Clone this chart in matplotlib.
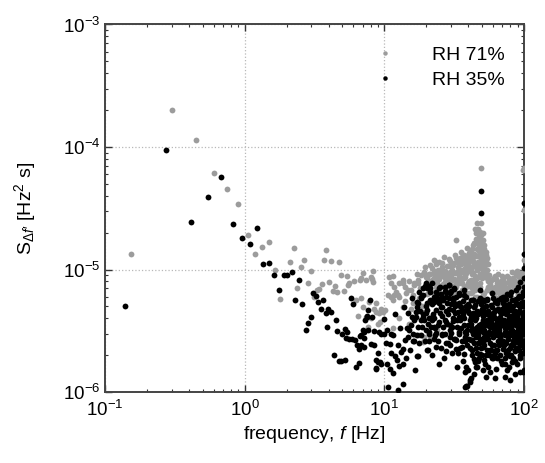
import matplotlib
matplotlib.use("Agg")
import matplotlib.pyplot as plt
from matplotlib.lines import Line2D
from matplotlib.ticker import LogLocator, NullFormatter
import numpy as np

plt.rcParams['font.family'] = ['Liberation Sans', 'DejaVu Sans']
plt.rcParams['mathtext.fontset'] = 'custom'
plt.rcParams['mathtext.rm'] = 'Liberation Sans'
plt.rcParams['mathtext.it'] = 'Liberation Sans:italic'
plt.rcParams['mathtext.default'] = 'regular'

# spectral density values are in units of 1e-6 Hz^2 s
# RH 71 % (grey)
f71 = [0.153, 0.30, 0.45, 0.60, 0.75, 0.89, 1.05, 1.19, 1.34, 1.49, 1.64, 1.80,
       2.10, 2.24, 2.38, 2.54, 2.67, 2.83, 2.96, 3.11, 3.28, 3.43, 3.59, 3.71,
       3.85, 4.0, 4.16, 4.3, 4.42, 4.6, 4.77, 4.93, 5.1, 5.38, 5.52, 5.6,
       6.11, 6.26, 6.45, 6.7, 6.8, 6.8, 7.0, 7.0, 7.4, 7.4, 7.6, 7.8,
       8.0, 8.0, 8.1, 8.3, 8.3, 8.5, 8.7, 8.7, 8.95, 9.2, 9.3, 9.5,
       9.7, 10.1, 10.6, 10.8, 11.1, 11.2, 11.5, 11.5, 11.8, 11.8, 12.5, 12.8,
       12.8, 13.5, 13.5, 13.7, 14.3, 14.7, 15.5, 15.5, 16.4, 16.4, 17.3, 17.3,
       17.8, 17.8, 18.3, 18.8, 19.3, 19.3, 19.3, 19.8, 19.8, 20.3, 21.0, 21.4,
       21.4, 22.0, 22.0, 22.6, 22.6, 23.4, 23.4, 23.4, 24.0, 24.0, 24.6, 24.6,
       25.9, 25.9, 25.9, 27.0, 27.5, 28.0, 28.9, 28.9, 29.7, 30.8, 31.6, 32.2,
       32.6, 32.6, 32.6, 32.6, 34.3, 34.3, 34.3, 35.2, 36.0, 36.0, 36.0, 37.4,
       37.4, 37.4, 37.8, 37.8, 37.8, 37.8, 38.7, 40.3, 40.3, 40.3, 41.4, 41.4,
       41.4, 42.4, 42.4, 42.4, 43.0, 43.6, 44.7, 44.7, 44.7, 44.7, 44.7, 45.5,
       45.8, 46.4, 46.4, 47.0, 47.0, 48.2, 48.2, 48.2, 48.2, 48.2, 48.2, 49.0,
       49.5, 49.5, 49.0, 50.0, 50.7, 50.7, 50.7, 50.7, 50.7, 50.7, 51.0, 52.0,
       52.0, 52.0, 52.0, 52.0, 53.3, 53.3, 53.3, 53.3, 54.7, 58.8, 60.7, 60.7,
       66.5, 66.5, 68.6, 68.6, 70.6, 70.6, 72.5, 74.3, 78.5, 78.5, 82.5, 82.5,
       87.4, 87.4, 94.3, 94.3, 98.0, 100.0, 100.0, 100.0,
       56.0, 63.0, 76.0, 90.0, 97.0, 57.5, 84.0, 92.0, 62.0, 45.0, 39.5, 35.5,
       30.0, 26.5, 20.8, 16.0, 14.0, 12.2, 33.5, 43.0, 55.5, 65.0, 80.0, 99.0]
s71 = [13.3, 200, 113, 61, 45, 34, 19, 13.5, 15.2, 16.7, 10.0, 5.75,
       11.5, 15.0, 7.0, 10.4, 12.0, 7.8, 9.8, 6.0, 6.8, 6.95, 7.6, 11.9,
       14.5, 7.9, 11.7, 6.65, 7.3, 6.5, 11.5, 9.0, 6.65, 8.9, 7.45, 7.7,
       8.0, 5.6, 4.2, 8.2, 8.5, 5.85, 9.4, 4.95, 8.2, 4.1, 3.4, 5.4,
       8.7, 4.0, 8.4, 9.7, 7.9, 4.8, 5.3, 4.5, 3.62, 4.4, 3.73, 4.8,
       4.5, 4.65, 6.17, 8.7, 7.8, 5.97, 8.8, 5.6, 6.17, 7.2, 6.17, 5.97,
       7.7, 8.2, 4.95, 7.8, 6.4, 6.8, 4.8, 6.8, 7.8, 7.5, 7.8, 8.2,
       2.9, 5.85, 9.0, 2.57, 2.82, 9.5, 4.5, 9.0, 8.7, 8.7, 9.2, 9.2,
       2.8, 10.2, 8.2, 9.8, 8.5, 11.5, 11.0, 7.2, 6.8, 3.2, 8.3, 6.4,
       9.0, 5.6, 9.5, 8.6, 7.2, 9.2, 10.6, 6.4, 9.5, 5.6, 8.4, 13.2,
       17.3, 8.2, 6.4, 7.2, 7.7, 9.2, 5.3, 11.0, 8.5, 12.7, 6.8, 12.0,
       6.0, 8.6, 10.2, 8.7, 6.4, 4.95, 12.0, 13.7, 10.6, 6.4, 7.2, 8.2,
       6.4, 9.2, 14.8, 6.6, 15.8, 8.2, 21.6, 6.8, 7.9, 6.0, 8.8, 19.7,
       23.8, 10.2, 6.0, 11.0, 21.6, 17.3, 7.2, 9.2, 20.3, 7.7, 10.6, 15.3,
       12.0, 23.8, 68, 12.3, 9.8, 15.3, 10.6, 6.2, 5.6, 17.3, 13.5, 13.0,
       14.8, 10.7, 6.4, 9.2, 14.0, 8.7, 13.2, 11.6, 6.8, 6.4, 6.0, 6.0,
       6.0, 7.45, 7.7, 5.6, 7.2, 8.2, 7.0, 6.2, 8.2, 8.5, 5.85, 7.45,
       7.5, 9.0, 8.2, 9.3, 65, 30.5, 67, 7.0,
       5.0, 6.6, 5.4, 6.3, 5.8, 7.9, 6.8, 5.2, 8.8, 12.8, 11.2, 10.0,
       7.5, 6.2, 6.8, 5.3, 7.2, 6.5, 9.8, 11.8, 8.0, 5.2, 6.6, 8.6]

# more of the dense grey cloud between 10 and 100 Hz
f71_dense = [14.0, 15.0, 16.0, 17.0, 18.0, 18.6, 19.6, 20.3, 21.0, 22.3, 23.0, 23.8,
             24.3, 25.2, 26.0, 26.5, 27.2, 28.2, 28.6, 29.3, 30.0, 30.5, 31.2, 31.8,
             33.0, 33.8, 34.6, 35.6, 36.4, 37.0, 38.2, 38.8, 39.3, 39.7, 40.8, 41.8,
             42.8, 43.3, 44.2, 45.0, 45.6, 46.2, 46.8, 47.5, 48.0, 48.6, 49.2, 49.7,
             50.3, 51.0, 51.5, 52.5, 53.0, 54.0, 54.5, 55.5, 56.2, 57.0, 58.0, 59.5,
             61.0, 62.5, 64.0, 65.5, 67.0, 69.5, 71.8, 73.5, 75.5, 77.0, 80.0, 81.8,
             84.5, 86.0, 89.0, 91.0, 93.0, 95.5, 97.5, 99.5, 100.0, 100.0, 100.0, 100.0,
             11.5, 12.8, 15.0, 16.8,
             20.6, 21.3, 22.0, 22.7, 23.5, 24.1, 24.7, 25.3, 25.8, 26.3, 26.9, 27.4,
             27.9, 28.5, 29.1, 29.6, 30.3, 30.7, 31.4, 31.9, 32.4, 32.8, 33.4, 34.0,
             34.7, 35.3, 35.9, 36.6, 37.1, 37.7, 38.3, 38.6, 39.0, 39.6, 40.1, 40.5,
             41.2, 41.6, 42.1, 42.6, 43.1, 43.5, 43.9, 44.4, 44.9, 45.3, 45.7, 46.1,
             46.5, 46.9, 47.3, 47.8, 48.3, 48.8, 49.3, 49.8, 50.2, 50.6, 51.2, 51.7,
             52.3, 52.8, 53.6, 54.2, 54.8, 55.8, 57.5, 59.0, 60.0, 62.0, 63.5, 66.0,
             68.0, 70.0, 71.0, 73.0, 76.5, 79.0, 83.0, 85.0, 88.0, 90.5, 92.5, 96.0,
             98.5, 99.0]
s71_dense = [5.5, 8.0, 6.2, 9.2, 7.0, 5.0, 10.5, 6.3, 7.6, 5.6, 9.0, 7.7,
             10.0, 6.0, 11.3, 7.6, 9.8, 6.8, 8.0, 11.8, 9.0, 7.4, 10.8, 6.3,
             9.6, 11.6, 8.0, 14.0, 10.0, 7.4, 9.4, 15.0, 11.0, 7.8, 12.4, 9.7,
             11.8, 7.3, 13.5, 10.5, 16.5, 8.5, 12.8, 18.5, 14.2, 11.4, 19.0, 8.6,
             13.8, 11.2, 16.0, 12.0, 9.7, 12.4, 10.0, 7.2, 9.0, 6.8, 8.2, 7.0,
             8.6, 6.6, 7.8, 9.2, 6.4, 8.8, 6.6, 7.8, 8.8, 6.4, 7.6, 9.5,
             6.8, 8.0, 9.8, 6.2, 7.6, 8.8, 6.4, 9.6, 8.4, 9.8, 5.8, 12.0,
             3.3, 4.0, 3.6, 2.9,
             8.0, 10.8, 6.6, 12.0, 8.4, 9.2, 11.6, 7.3, 10.5, 8.8, 12.6, 7.9,
             10.6, 8.6, 12.2, 7.2, 10.0, 8.2, 11.2, 9.4, 12.5, 7.6, 10.4, 8.8,
             12.4, 9.6, 7.8, 11.5, 13.2, 9.0, 11.0, 7.2, 13.0, 9.8, 8.0, 11.8,
             14.0, 10.2, 7.6, 12.6, 9.4, 16.5, 11.0, 8.4, 13.2, 17.8, 10.0, 14.8,
             7.4, 11.6, 16.0, 13.0, 9.0, 14.5, 10.2, 16.8, 11.6, 20.0, 12.6, 8.8,
             13.6, 10.8, 12.0, 8.6, 11.0, 8.2, 7.6, 6.8, 8.4, 7.2, 8.4, 7.0,
             8.0, 6.6, 8.6, 7.2, 7.0, 8.0, 8.6, 7.2, 7.0, 8.8, 7.0, 7.6,
             8.2, 6.8]

# RH 35 % (black)
f35 = [0.138, 0.275, 0.41, 0.55, 0.68, 0.82, 0.96, 1.09, 1.23, 1.36, 1.50, 1.62,
       1.77, 1.90, 2.02, 2.18, 2.30, 2.43, 2.59, 2.73, 2.85, 2.99, 3.10, 3.26,
       3.37, 3.53, 3.65, 3.81, 3.90, 3.98, 4.12, 4.34, 4.5, 4.6, 4.77, 4.93,
       5.0, 5.2, 5.25, 5.35, 5.4, 5.6, 5.8, 5.95, 5.9, 6.2, 6.25, 6.4,
       6.55, 6.6, 6.7, 6.8, 6.8, 7.0, 7.2, 7.2, 7.2, 7.3, 7.5, 7.5,
       7.65, 7.6, 7.95, 8.0, 8.1, 8.4, 8.5, 8.7, 8.7, 8.7, 8.95, 9.0,
       9.2, 9.3, 9.5, 9.5, 9.9, 10.0, 10.2, 10.4, 10.4, 10.6, 10.9, 11.0,
       11.2, 11.2, 11.5, 11.6, 11.9, 12.0, 12.4, 12.6, 12.8, 13.2, 13.5, 13.7,
       13.7, 13.9, 14.0, 14.7, 15.0, 15.5, 15.9, 16.4, 16.4, 16.8, 16.8, 17.0,
       17.0, 17.2, 17.2, 17.3, 17.3, 17.5, 17.8, 18.3, 18.3, 18.3, 18.3, 18.8,
       18.8, 19.3, 19.4, 19.8, 19.8, 19.8, 20.3, 20.3, 20.3, 20.6, 20.9, 21.0,
       21.0, 21.4, 21.4, 21.4, 22.0, 22.0, 22.6, 22.6, 22.6, 23.4, 23.4, 23.4,
       24.6, 24.6, 24.6, 24.6, 25.1, 25.3, 25.9, 25.9, 27.0, 27.0, 27.2, 27.5,
       27.5, 27.5, 28.0, 28.9, 28.9, 29.2, 29.7, 29.7, 29.7, 30.8, 30.8, 31.3,
       31.3, 31.6, 32.6, 33.0, 34.3, 34.3, 34.3, 35.2, 36.0, 37.4, 37.4, 37.4,
       37.8, 37.8, 37.8, 38.7, 38.7, 38.7, 40.3, 41.4, 42.4, 42.4, 43.6, 44.7,
       44.7, 46.4, 47.0, 48.2, 48.2, 48.2, 49.0, 49.0, 50.7, 50.7, 50.7, 50.7,
       50.7, 52.0, 52.0, 53.3, 53.3, 54.7, 56.9, 58.8, 58.8, 60.7, 60.7, 64.0,
       64.0, 68.6, 70.6, 70.6, 70.6, 73.5, 73.5, 75.7, 75.7, 78.5, 80.7, 80.7,
       82.5, 85.0, 87.4, 90.0, 90.0, 92.0, 94.3, 94.3, 94.3, 96.0, 100.0, 100.0,
       100.0, 100.0, 100.0, 100.0,
       21.0, 23.4, 25.9, 30.0, 34.0, 38.5, 42.4, 47.0, 52.0, 57.0, 64.0, 27.5,
       32.6, 36.0, 41.4, 47.0, 50.7, 60.7, 68.6, 39.0, 41.0, 44.0, 46.0, 55.0,
       58.0, 62.0, 66.0, 71.0, 77.0, 83.0, 89.0, 97.0, 99.0, 54.0, 59.5, 65.5,
       72.0, 79.0, 86.0, 93.0, 98.0, 56.0, 61.5, 67.5, 74.0, 81.0, 88.0, 95.0,
       43.0, 48.5, 53.5, 63.0, 69.5, 76.5, 84.0, 91.0, 99.5, 40.0, 45.5, 51.5,
       57.5, 66.5, 73.0, 85.5, 96.5, 35.0, 31.0, 26.0, 22.5, 19.0, 16.0, 14.5]
s35 = [5.0, 95, 24.5, 39, 57, 23.5, 18, 16.2, 22, 11, 11.4, 9.1,
       6.8, 9.1, 9.0, 9.5, 5.6, 8.2, 5.2, 3.2, 3.67, 4.1, 6.4, 6.05,
       5.4, 4.8, 5.65, 4.4, 3.38, 4.76, 4.54, 2.02, 3.86, 3.15, 1.8, 1.78,
       2.96, 1.82, 3.25, 2.75, 3.09, 2.7, 5.9, 5.2, 2.69, 2.64, 1.61, 2.41,
       2.25, 1.71, 2.85, 2.9, 2.4, 3.2, 2.75, 3.1, 2.35, 3.9, 4.1, 4.2,
       4.7, 3.2, 5.6, 2.48, 4.1, 3.15, 2.4, 1.82, 1.58, 1.55, 2.08, 1.76,
       3.1, 1.76, 3.0, 1.7, 3.98, 3.0, 2.51, 3.2, 1.7, 1.1, 1.55, 2.45,
       3.0, 2.08, 1.43, 2.9, 4.3, 1.96, 1.82, 1.03, 1.62, 2.12, 1.68, 2.26,
       1.17, 4.95, 2.64, 2.82, 3.2, 3.5, 4.1, 3.9, 2.6, 4.5, 4.1, 2.9,
       1.95, 4.95, 5.4, 5.3, 1.95, 3.4, 6.6, 3.9, 5.9, 6.0, 2.9, 4.1,
       7.0, 3.9, 7.4, 4.4, 3.2, 7.7, 7.0, 5.3, 2.2, 2.19, 4.0, 7.3,
       3.1, 5.6, 7.0, 4.0, 7.7, 3.9, 6.0, 5.4, 2.7, 6.5, 4.65, 2.35,
       7.0, 5.6, 3.7, 1.7, 7.2, 4.95, 4.95, 2.9, 7.2, 3.9, 6.7, 6.0,
       3.75, 2.15, 5.3, 7.5, 4.8, 7.5, 6.4, 3.5, 2.8, 4.0, 4.65, 7.0,
       5.3, 6.9, 2.25, 3.9, 6.2, 4.1, 3.0, 4.95, 4.65, 6.8, 3.5, 2.05,
       2.8, 1.45, 1.1, 4.65, 1.6, 1.13, 4.4, 3.6, 2.65, 2.2, 4.95, 4.1,
       1.76, 3.4, 2.9, 4.5, 2.05, 6.8, 44, 29, 4.5, 3.75, 3.9, 2.35,
       1.5, 4.95, 1.82, 3.0, 1.33, 4.3, 4.1, 6.4, 2.4, 4.5, 3.2, 5.3,
       1.88, 3.75, 6.0, 4.65, 2.25, 2.9, 1.33, 4.8, 1.5, 4.0, 6.6, 2.4,
       1.76, 3.1, 5.3, 7.2, 3.6, 2.2, 7.9, 2.8, 1.45, 4.4, 34.6, 13.5,
       10.2, 8.5, 5.2, 1.5,
       3.0, 3.05, 2.95, 3.05, 3.1, 3.0, 3.15, 3.1, 3.2, 3.0, 3.1, 2.5,
       2.65, 2.35, 2.65, 2.5, 2.57, 2.4, 2.57, 1.12, 1.2, 1.85, 1.6, 2.7,
       3.6, 2.1, 3.4, 5.6, 3.5, 2.6, 4.2, 3.3, 2.4, 5.7, 1.9, 2.9,
       4.9, 1.95, 4.6, 3.8, 6.2, 3.45, 4.0, 2.75, 3.3, 5.0, 2.55, 3.6,
       5.6, 3.3, 2.0, 3.6, 4.4, 2.05, 3.85, 5.8, 2.6, 5.2, 2.3, 5.5,
       2.2, 3.45, 1.7, 2.15, 3.05, 5.0, 5.6, 5.8, 3.4, 4.3, 2.6, 3.3]

# more of the dense black cloud between 12 and 100 Hz
f35_dense = [12.5, 13.0, 14.2, 14.8, 15.2, 15.8, 16.1, 16.6, 17.6, 18.0, 18.6, 19.0,
             19.6, 20.0, 20.5, 21.2, 21.8, 22.3, 22.9, 23.7, 24.2, 24.9, 25.5, 26.2,
             26.8, 27.8, 28.4, 29.0, 29.5, 30.2, 30.5, 31.0, 31.9, 32.3, 32.9, 33.6,
             34.0, 34.8, 35.5, 36.3, 36.8, 37.2, 38.0, 38.4, 39.2, 39.8, 40.6, 41.0,
             41.8, 42.0, 42.8, 43.3, 44.0, 44.3, 45.0, 45.8, 46.0, 46.8, 47.4, 47.8,
             48.6, 49.3, 49.8, 50.3, 51.2, 51.8, 52.5, 53.0, 53.8, 54.2, 55.0, 55.6,
             56.4, 57.0, 57.8, 58.3, 59.0, 59.8, 60.2, 61.0, 61.8, 62.5, 63.2, 63.8,
             64.6, 65.2, 65.9, 66.8, 67.3, 68.0, 68.9, 69.5, 70.2, 71.5, 72.3, 72.8,
             73.8, 74.6, 75.2, 76.0, 76.8, 77.5, 78.0, 79.2, 79.8, 80.3, 81.5, 82.0,
             83.2, 83.8, 84.5, 85.8, 86.5, 87.0, 88.2, 88.8, 89.5, 90.5, 91.2, 91.8,
             92.6, 93.5, 94.0, 95.2, 95.8, 96.4, 97.2, 97.8, 98.5, 99.0, 99.5, 100.0,
             100.0, 100.0, 41.0, 44.0, 57.0, 62.0, 80.0, 86.0, 99.0,
             20.2, 20.8, 21.6, 22.1, 22.8, 23.2, 23.9, 24.4, 24.8, 25.6, 26.0, 26.5,
             27.1, 27.7, 28.1, 28.7, 29.3, 29.9, 30.4, 30.9, 31.5, 32.0, 32.5, 33.2,
             33.9, 34.5, 35.0, 35.8, 36.5, 37.0, 37.6, 38.2, 38.9, 39.5, 39.9,
             40.2, 40.9, 41.5, 42.2, 42.6, 43.1, 43.7, 44.5, 45.2, 45.5, 46.1, 46.6,
             47.2, 47.7, 48.4, 48.9, 49.5, 50.0, 50.5, 51.0, 51.6, 52.2, 52.8, 53.5,
             54.0, 54.6, 55.3, 55.8, 56.6, 57.3, 58.0, 58.6, 59.3, 60.0, 60.5, 61.3,
             62.0, 62.8, 63.5, 64.3, 65.0, 65.7, 66.3, 67.0, 67.7, 68.3, 69.2, 69.8,
             70.8, 71.2, 72.0, 72.6, 73.3, 74.0, 74.8, 75.5, 76.3, 77.2, 77.8, 78.7,
             79.5, 80.0, 80.8, 81.2, 82.2, 82.8, 83.5, 84.2, 85.2, 85.6, 86.2, 87.2,
             87.8, 88.5, 89.2, 89.8, 90.8, 91.5, 92.2, 92.9, 93.8, 94.6, 95.0, 95.5,
             96.2, 96.8, 97.5, 98.0, 98.8, 99.3, 99.8, 100.0, 100.0, 100.0]
s35_dense = [2.4, 3.3, 1.9, 4.4, 2.2, 5.8, 3.0, 1.5, 2.5, 4.6, 3.4, 6.2,
             2.6, 5.0, 3.6, 6.6, 2.0, 4.3, 3.3, 5.9, 2.6, 4.4, 6.3, 3.4,
             1.9, 4.6, 2.5, 5.8, 3.2, 6.7, 2.1, 3.8, 5.0, 2.7, 1.6, 4.5,
             6.4, 2.3, 3.3, 5.5, 1.8, 4.0, 2.6, 6.0, 3.2, 1.5, 5.0, 2.3,
             4.1, 1.3, 3.0, 5.6, 2.5, 3.9, 1.6, 4.6, 2.1, 5.5, 3.5, 1.9,
             2.7, 5.2, 3.3, 2.0, 4.2, 2.8, 1.7, 5.0, 3.7, 2.2, 4.6, 1.6,
             3.1, 2.5, 5.1, 3.8, 1.9, 4.3, 2.8, 3.5, 5.4, 2.2, 1.55, 3.9,
             2.6, 4.8, 3.2, 2.0, 4.1, 5.9, 2.9, 1.7, 3.7, 2.4, 5.2, 3.3,
             4.3, 2.1, 3.6, 6.3, 2.7, 1.6, 4.9, 3.1, 2.3, 4.2, 3.5, 5.6,
             2.6, 1.9, 4.5, 2.2, 3.8, 6.8, 2.9, 4.1, 1.7, 3.3, 5.1, 2.5,
             4.6, 3.0, 1.9, 3.9, 6.0, 2.4, 3.4, 5.4, 2.1, 4.2, 3.0, 2.6,
             3.8, 6.5, 1.25, 1.4, 1.45, 1.3, 1.25, 1.4, 1.45,
             4.7, 2.6, 3.4, 5.2, 4.0, 2.9, 6.3, 3.5, 5.3, 2.3, 4.2, 5.6,
             3.0, 6.5, 3.6, 4.3, 2.4, 5.2, 3.4, 5.9, 2.7, 4.4, 6.0, 3.4,
             2.1, 5.3, 3.9, 2.6, 4.3, 6.2, 3.1, 5.0, 2.4, 4.6, 3.5,
             2.7, 3.9, 5.6, 3.3, 2.0, 4.4, 3.1, 5.1, 2.8, 4.0, 3.2, 1.8,
             4.3, 2.5, 5.8, 3.6, 2.3, 4.8, 3.1, 5.6, 2.4, 3.5, 4.5, 2.7,
             3.9, 5.6, 3.0, 2.0, 4.4, 3.4, 2.2, 4.9, 3.0, 5.8, 2.0, 4.1,
             2.9, 4.7, 3.4, 2.2, 5.6, 3.7, 2.4, 4.5, 3.0, 1.8, 4.8, 3.5,
             2.6, 5.3, 3.9, 1.9, 3.1, 5.7, 2.5, 4.4, 3.4, 2.2, 5.2, 3.8,
             2.9, 6.2, 2.0, 4.7, 3.2, 2.4, 5.0, 3.6, 2.8, 4.2, 1.8, 3.5,
             5.7, 2.3, 4.4, 3.1, 2.7, 6.1, 3.8, 2.0, 4.9, 3.5, 2.4, 5.3,
             3.2, 4.4, 2.6, 6.6, 3.6, 5.0, 2.3, 4.5, 7.2, 3.3]

grey = '#9c9c9c'

fig = plt.figure(figsize=(5.45, 4.63), dpi=100)
ax = fig.add_axes([0.1927, 0.1533, 0.7688, 0.7938])

ax.plot(f71 + f71_dense, np.array(s71 + s71_dense) * 1e-6, 'o', color=grey,
        ms=4.2, mew=0, zorder=3)
ax.plot(f35 + f35_dense, np.array(s35 + s35_dense) * 1e-6, 'o', color='black',
        ms=4.2, mew=0, zorder=4)

ax.set_xscale('log')
ax.set_yscale('log')
ax.set_xlim(0.1, 100)
ax.set_ylim(1e-6, 1e-3)

ax.xaxis.set_minor_locator(LogLocator(base=10, subs=np.arange(2, 10)))
ax.yaxis.set_minor_locator(LogLocator(base=10, subs=np.arange(2, 10)))
ax.xaxis.set_minor_formatter(NullFormatter())
ax.yaxis.set_minor_formatter(NullFormatter())

ax.grid(True, which='major', linestyle=':', color='#b8b8b8', linewidth=0.9)
ax.tick_params(which='both', direction='in', top=True, right=True,
               labelsize=13.5, colors='#333333', labelcolor='black')
ax.tick_params(which='major', length=5, width=1)
ax.tick_params(which='minor', length=2.5, width=0.8)
ax.tick_params(axis='x', which='major', pad=6)
ax.tick_params(axis='y', which='major', pad=3)
for sp in ax.spines.values():
    sp.set_linewidth(1.4)
    sp.set_color('#444444')

ax.set_xlabel(r"frequency, $\mathit{f}$ [Hz]", fontsize=14)
ax.set_ylabel(r"S$_{\mathit{\Delta f}\prime}$ [Hz$^2$ s]", fontsize=14)
ax.xaxis.set_label_coords(0.5, -0.088)
ax.yaxis.set_label_coords(-0.16, 0.5)

handles = [Line2D([], [], marker='o', ls='none', color=grey, ms=3.2, mew=0),
           Line2D([], [], marker='o', ls='none', color='black', ms=3.2, mew=0)]
ax.legend(handles, ['RH 71%', 'RH 35%'], loc='upper left', bbox_to_anchor=(0.65, 0.94),
          frameon=False, fontsize=14, handlelength=0.8, handletextpad=2.0,
          borderpad=0, borderaxespad=0, labelspacing=0.35)

fig.savefig('out.png', dpi=100)
